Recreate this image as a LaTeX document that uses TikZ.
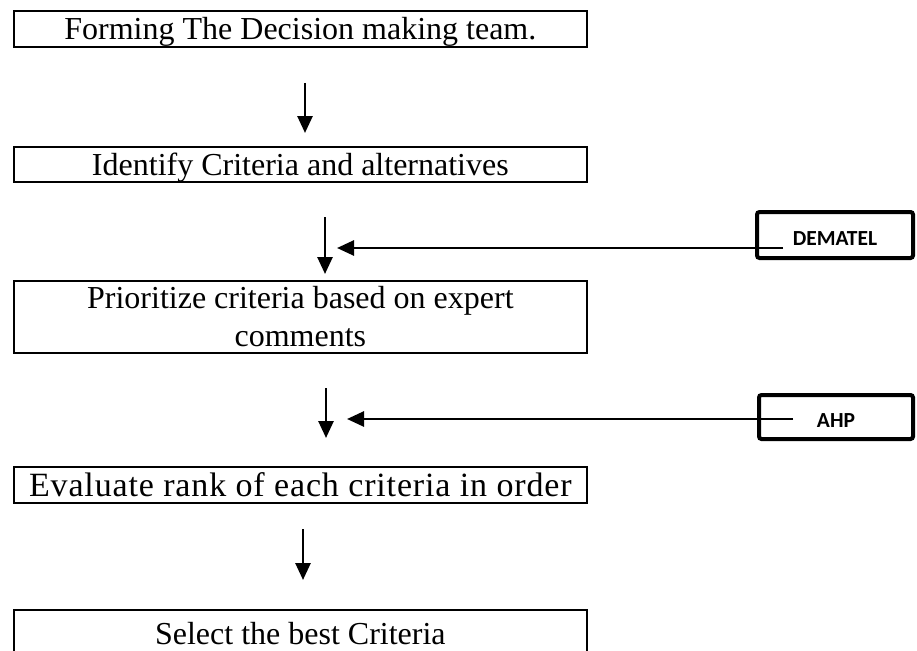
\documentclass[tikz,border=0pt]{standalone}
\usepackage{fontspec}
\setmainfont{Liberation Serif}
\newfontfamily\calibfont{Carlito}
\newfontfamily\widefont[LetterSpace=2.5]{Liberation Serif}
\usetikzlibrary{arrows.meta}
\begin{document}
\begin{tikzpicture}[x=1pt,y=-1pt,
  stepbox/.style={draw, line width=2pt, inner sep=0pt, minimum width=573.3pt,
    text height=21.2pt, text depth=0pt, align=center,
    font=\fontsize{32}{38}\selectfont},
  toolbox/.style={draw, line width=4pt, rounded corners=2.5pt, inner sep=0pt,
    text height=20pt, text depth=0pt,
    font=\calibfont\bfseries\fontsize{21.5}{25}\selectfont},
  arr/.style={line width=2.7pt, -{Triangle[length=17pt,width=15pt]}}]
\clip (0,0) rectangle (917,650);
\fill[white] (0,0) rectangle (917,650);

\node[stepbox, minimum height=36pt] (b1) at (300.35,29) {Forming The Decision making team.};
\node[stepbox, minimum height=35pt] (b2) at (300.35,164.5) {Identify Criteria and alternatives};
\node[stepbox, minimum height=72pt, text height=59.2pt] (b3) at (300.35,317) {Prioritize criteria based on expert\\comments};
\node[stepbox, minimum height=36pt, text height=22.4pt, font=\widefont\fontsize{34}{38}\selectfont] (b4) at (300.35,485) {Evaluate rank of each criteria in order};
\node[stepbox, minimum height=47pt] (b5) at (300.35,633.5) {Select the best Criteria};

\node[toolbox, minimum width=156pt, minimum height=46pt] (dem) at (835,235) {DEMATEL};
\node[toolbox, minimum width=154pt, minimum height=44pt] (ahp) at (836,417) {AHP};

\coordinate (a1s) at (305,83);  \coordinate (a1e) at (305,133);
\coordinate (a2s) at (325,217); \coordinate (a2e) at (325,274);
\coordinate (a3s) at (326,388); \coordinate (a3e) at (326,438);
\coordinate (a4s) at (303,529); \coordinate (a4e) at (303,580);
\coordinate (h1s) at (783,248); \coordinate (h1e) at (337,248);
\coordinate (h2s) at (793,419); \coordinate (h2e) at (347,419);

\draw[arr] (a1s) -- (a1e);
\draw[arr] (a2s) -- (a2e);
\draw[arr] (a3s) -- (a3e);
\draw[arr] (a4s) -- (a4e);
\draw[arr] (h1s) -- (h1e);
\draw[arr] (h2s) -- (h2e);
\end{tikzpicture}
\end{document}
